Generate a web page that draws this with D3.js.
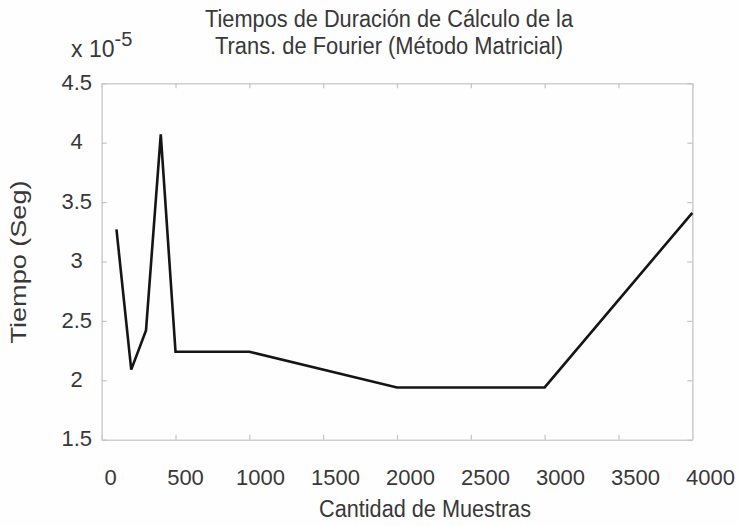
<!DOCTYPE html>
<html>
<head>
<meta charset="utf-8">
<script src="https://cdn.jsdelivr.net/npm/d3@7"></script>
<style>
  body { margin: 0; background: #fff; }
  text { font-family: "Liberation Sans", Arial, sans-serif; fill: #383838; }
</style>
</head>
<body>
<svg id="chart"></svg>
<script>
// data (tiempo in units of 1e-5 s)
const muestras = [100, 200, 300, 400, 500, 1000, 2000, 3000, 4000];
const tiempos = [3.27, 2.09, 2.42, 4.07, 2.24, 2.24, 1.94, 1.94, 3.41];
const xTicks = [0, 500, 1000, 1500, 2000, 2500, 3000, 3500, 4000];
const yTicks = [1.5, 2, 2.5, 3, 3.5, 4, 4.5];
const yTickLabels = ['1.5', '2', '2.5', '3', '3.5', '4', '4.5'];
const titleLines = ['Tiempos de Duración de Cálculo de la', 'Trans. de Fourier (Método Matricial)'];

const width = 738, height = 526;
const margin = {top: 83.3, right: 45.7, bottom: 86.3, left: 101.7};
const w = width - margin.left - margin.right;
const h = height - margin.top - margin.bottom;

const svg = d3.select('#chart').attr('width', width).attr('height', height);
svg.append('rect').attr('width', width).attr('height', height).attr('fill', '#fefefe');

const x = d3.scaleLinear().domain([0, 4000]).range([0, w]);
const y = d3.scaleLinear().domain([1.5, 4.5]).range([h, 0]);
// tick labels in the source sit slightly wider than the ticks
const xLab = d3.scaleLinear().domain([0, 4000]).range([110 - margin.left, 710 - margin.left]);

const g = svg.append('g').attr('transform', `translate(${margin.left},${margin.top})`);

// box with inward ticks on all four sides
const axes = [
  [d3.axisBottom(x).tickValues(xTicks), `translate(0,${h})`],
  [d3.axisTop(x).tickValues(xTicks), 'translate(0,0)'],
  [d3.axisLeft(y).tickValues(yTicks), 'translate(0,0)'],
  [d3.axisRight(y).tickValues(yTicks), `translate(${w},0)`]
];
axes.forEach(([ax, tr]) => {
  const a = g.append('g').attr('transform', tr)
    .call(ax.tickSize(-5).tickSizeOuter(0).tickFormat(''));
  a.select('.domain').attr('stroke', '#cfcfcf').attr('stroke-width', 1.6);
  a.selectAll('.tick line').attr('stroke', '#c4c4c4').attr('stroke-width', 1.2);
});

// x tick labels
const xl = g.append('g').attr('transform', `translate(0,${h})`)
  .call(d3.axisBottom(xLab).tickValues(xTicks).tickSize(0).tickFormat(d3.format('d')));
xl.select('.domain').remove();
xl.selectAll('text').attr('y', 45).attr('dy', 0)
  .attr('font-size', 22).attr('fill', '#383838')
  .attr('font-family', '"Liberation Sans", Arial, sans-serif');

// y tick labels
const yl = g.append('g')
  .call(d3.axisLeft(y).tickValues(yTicks).tickSize(0)
    .tickFormat((d, i) => yTickLabels[i]));
yl.select('.domain').remove();
yl.selectAll('text').attr('x', -25).attr('dy', '0.28em')
  .attr('text-anchor', 'middle')
  .attr('font-size', 22).attr('fill', '#383838')
  .attr('font-family', '"Liberation Sans", Arial, sans-serif');

// line
const line = d3.line().x((d, i) => x(muestras[i])).y(d => y(d));
g.append('path').datum(tiempos)
  .attr('d', line)
  .attr('fill', 'none')
  .attr('stroke', '#151515')
  .attr('stroke-width', 2.6)
  .attr('stroke-linejoin', 'miter');

// title
svg.append('text').attr('x', 389).attr('y', 27).attr('text-anchor', 'middle')
  .attr('font-size', 23).attr('textLength', 368).attr('lengthAdjust', 'spacingAndGlyphs')
  .text(titleLines[0]);
svg.append('text').attr('x', 389).attr('y', 54).attr('text-anchor', 'middle')
  .attr('font-size', 23).attr('textLength', 348).attr('lengthAdjust', 'spacingAndGlyphs')
  .text(titleLines[1]);

// exponent
const ex = svg.append('text').attr('x', 71).attr('y', 57).attr('font-size', 23);
ex.append('tspan').text('x 10');
ex.append('tspan').attr('dy', -11).attr('font-size', 20).text('-5');

// axis labels
svg.append('text').attr('x', 425).attr('y', 517).attr('text-anchor', 'middle')
  .attr('font-size', 23).attr('textLength', 212).attr('lengthAdjust', 'spacingAndGlyphs')
  .text('Cantidad de Muestras');
svg.append('text').attr('transform', 'translate(26,262) rotate(-90)')
  .attr('text-anchor', 'middle')
  .attr('font-size', 22).attr('textLength', 163).attr('lengthAdjust', 'spacingAndGlyphs')
  .text('Tiempo (Seg)');
</script>
</body>
</html>
